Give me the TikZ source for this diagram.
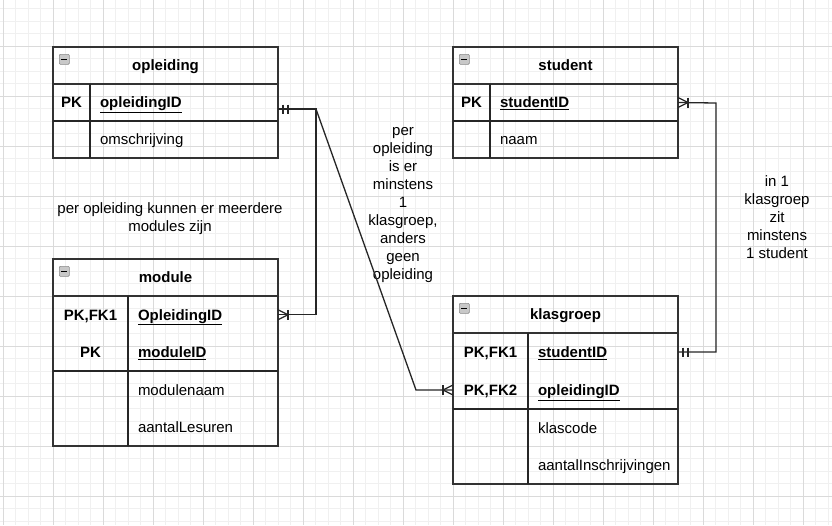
\documentclass[tikz,border=0pt]{standalone}
\usepackage{fontspec}
\setmainfont{Liberation Sans}
\usepackage{xcolor}
\definecolor{gridminor}{HTML}{F0F0F0}
\definecolor{gridmajor}{HTML}{DADADA}
\definecolor{tblgray}{HTML}{333333}
\definecolor{iconfill}{HTML}{C8C8C8}
\definecolor{icondraw}{HTML}{8A8A8A}
\tikzset{
    minorline/.style={draw=gridminor, line width=0.9pt},
    majorline/.style={draw=gridmajor, line width=1pt},
    tblhead/.style={
        draw=tblgray,
        line width=1.6pt,
        anchor=north west,
        minimum width=225pt,
        minimum height=37pt,
        inner sep=0pt,
        outer sep=0pt,
        text height=13pt,
        text depth=2.3pt,
        font=\bfseries
    },
    tblborder/.style={draw=tblgray, line width=1.6pt},
    tblline/.style={draw=black!85, line width=1.4pt},
    rowtext/.style={anchor=north west, minimum height=37.5pt, outer sep=0pt, text height=13pt, text depth=2.3pt},
    keycell/.style={rowtext, inner sep=0pt, font=\bfseries},
    keyfield/.style={rowtext, inner xsep=10pt, inner ysep=0pt, font=\bfseries},
    attrfield/.style={rowtext, inner xsep=10pt, inner ysep=0pt},
    minbox/.style={anchor=north west, draw=icondraw, fill=iconfill, rounded corners=1pt, minimum size=10pt, inner sep=0pt, line width=0.6pt},
    note/.style={align=center, inner sep=0pt},
    conn/.style={draw=black!85, line width=1.3pt},
    mandone/.pic={
        \draw[conn] (5,-4.5) -- (5,4.5);
        \draw[conn] (10,-4.5) -- (10,4.5);
    },
    crowone/.pic={
        \draw[conn] (0,-5) -- (10,0) -- (0,5);
        \draw[conn] (10,-5) -- (10,5);
    }
}

\begin{document}
\begin{tikzpicture}[x=1pt, y=-1pt]
    \fontsize{15}{18}\selectfont
    \useasboundingbox (0,0) rectangle (832,525);
    % grid
    \fill[white] (0,0) rectangle (832,525);
    \foreach \x in {3,15.5,...,832} \draw[minorline] (\x,0) -- (\x,525);
    \foreach \y in {8.5,21,...,525} \draw[minorline] (0,\y) -- (832,\y);
    \foreach \x in {3,53,...,832} \draw[majorline] (\x,0) -- (\x,525);
    \foreach \y in {46,96,...,525} \draw[majorline] (0,\y) -- (832,\y);

    % opleiding
    \node[tblhead] (opl) at (53,47) {opleiding};
    \node[minbox] (opl-min) at (59,54) {\rule{6pt}{1.3pt}};
    \node[keycell, minimum width=37pt, minimum height=37pt] (opl-pk) at (53,84) {PK};
    \node[keyfield, minimum height=37pt] (opl-id) at (90,84) {\underline{opleidingID}};
    \node[attrfield, minimum height=37pt] (opl-om) at (90,121) {omschrijving};
    \draw[tblborder] (opl.south west) rectangle (opl-om.south -| opl.east);
    \draw[tblline] (opl-id.south -| opl.west) -- (opl-id.south -| opl.east);
    \draw[tblline] (opl-id.north west) -- (opl-om.south west);

    % student
    \node[tblhead] (stu) at (453,47) {student};
    \node[minbox] (stu-min) at (459,54) {\rule{6pt}{1.3pt}};
    \node[keycell, minimum width=37pt, minimum height=37pt] (stu-pk) at (453,84) {PK};
    \node[keyfield, minimum height=37pt] (stu-id) at (490,84) {\underline{studentID}};
    \node[attrfield, minimum height=37pt] (stu-naam) at (490,121) {naam};
    \draw[tblborder] (stu.south west) rectangle (stu-naam.south -| stu.east);
    \draw[tblline] (stu-id.south -| stu.west) -- (stu-id.south -| stu.east);
    \draw[tblline] (stu-id.north west) -- (stu-naam.south west);

    % module
    \node[tblhead] (mod) at (53,259) {module};
    \node[minbox] (mod-min) at (59,266) {\rule{6pt}{1.3pt}};
    \node[keycell, minimum width=75pt] (mod-k1) at (53,296) {PK,FK1};
    \node[keyfield] (mod-oid) at (128,296) {\underline{OpleidingID}};
    \node[keycell, minimum width=75pt] (mod-k2) at (53,333.5) {PK};
    \node[keyfield] (mod-mid) at (128,333.5) {\underline{moduleID}};
    \node[attrfield] (mod-naam) at (128,371) {modulenaam};
    \node[attrfield] (mod-les) at (128,408.5) {aantalLesuren};
    \draw[tblborder] (mod.south west) rectangle (mod-les.south -| mod.east);
    \draw[tblline] (mod-mid.south -| mod.west) -- (mod-mid.south -| mod.east);
    \draw[tblline] (mod-oid.north west) -- (mod-les.south west);

    % klasgroep
    \node[tblhead] (kg) at (453,296) {klasgroep};
    \node[minbox] (kg-min) at (459,303) {\rule{6pt}{1.3pt}};
    \node[keycell, minimum width=75pt, minimum height=38pt] (kg-k1) at (453,333) {PK,FK1};
    \node[keyfield, minimum height=38pt] (kg-sid) at (528,333) {\underline{studentID}};
    \node[keycell, minimum width=75pt, minimum height=38pt] (kg-k2) at (453,371) {PK,FK2};
    \node[keyfield, minimum height=38pt] (kg-oid) at (528,371) {\underline{opleidingID}};
    \node[attrfield] (kg-code) at (528,409) {klascode};
    \node[attrfield] (kg-aant) at (528,446.5) {aantalInschrijvingen};
    \draw[tblborder] (kg.south west) rectangle (kg-aant.south -| kg.east);
    \draw[tblline] (kg-oid.south -| kg.west) -- (kg-oid.south -| kg.east);
    \draw[tblline] (kg-sid.north west) -- (kg-aant.south west);

    % notes
    \node[note] (n-mod) at (170,218.5) {per opleiding kunnen er meerdere\\modules zijn};
    \node[note] (n-kg) at (403,205.5) {per\\opleiding\\is er\\minstens\\1\\klasgroep,\\anders\\geen\\opleiding};
    \node[note] (n-stu) at (777,217) {in 1\\klasgroep\\zit\\minstens\\1 student};

    % relations
    \coordinate (b1) at (316,109);
    \coordinate (b2) at (416,390);
    \coordinate (b3) at (716,103);
    \draw[conn] (opl.east |- b1) -- (b1) |- (mod-oid -| mod.east);
    \draw[conn] (opl.east |- b1) -- (b1) -- (b2) -- (kg-oid -| kg.west);
    \draw[conn] (stu-id -| stu.east) -- (b3) |- (kg-sid -| kg.east);
    \pic at (opl.east |- b1) {mandone};
    \pic at (mod-oid -| mod.east) {crowone};
    \pic[rotate=180] at (kg-oid -| kg.west) {crowone};
    \pic at (stu-id -| stu.east) {crowone};
    \pic at (kg-sid -| kg.east) {mandone};
\end{tikzpicture}
\end{document}
